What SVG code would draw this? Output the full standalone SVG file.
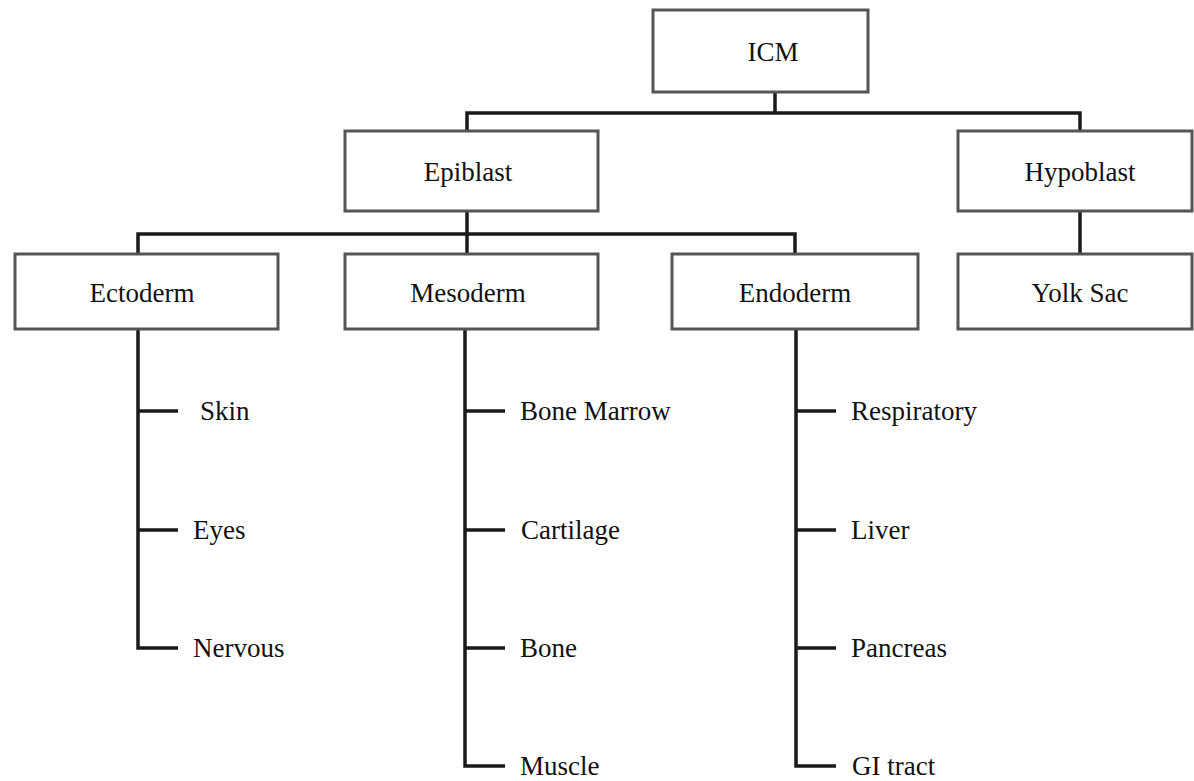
<svg xmlns="http://www.w3.org/2000/svg" width="1194" height="781" viewBox="0 0 1194 781">
<style>
.box{fill:#fff;stroke:#555;stroke-width:3}
.lbl{font-family:"Liberation Serif","Times New Roman",serif;font-size:27px;fill:#111;text-anchor:middle}
.leaf{font-family:"Liberation Serif","Times New Roman",serif;font-size:27px;fill:#111}
.ln{stroke:#1a1a1a;stroke-width:3.5;fill:none}
</style>
<rect width="1194" height="781" fill="#fff"/>
<g id="connectors">
<polyline class="ln" points="775,92 775,113"/>
<polyline class="ln" points="467,131 467,113 1080,113 1080,131"/>
<polyline class="ln" points="467,211 467,254"/>
<polyline class="ln" points="138,254 138,234 795,234 795,254"/>
<polyline class="ln" points="1080,211 1080,254"/>
<polyline class="ln" points="138,329 138,648 178,648"/>
<line class="ln" x1="138" y1="411" x2="178" y2="411"/>
<line class="ln" x1="138" y1="530" x2="178" y2="530"/>
<polyline class="ln" points="465,329 465,766 505,766"/>
<line class="ln" x1="465" y1="411" x2="505" y2="411"/>
<line class="ln" x1="465" y1="530" x2="505" y2="530"/>
<line class="ln" x1="465" y1="648" x2="505" y2="648"/>
<polyline class="ln" points="796,329 796,766 836,766"/>
<line class="ln" x1="796" y1="411" x2="836" y2="411"/>
<line class="ln" x1="796" y1="530" x2="836" y2="530"/>
<line class="ln" x1="796" y1="648" x2="836" y2="648"/>
</g>
<g id="icm"><rect class="box" x="653" y="10" width="215" height="82"/><text class="lbl" x="773" y="61">ICM</text></g>
<g id="epiblast"><rect class="box" x="345" y="131" width="253" height="80"/><text class="lbl" x="468" y="181">Epiblast</text></g>
<g id="hypoblast"><rect class="box" x="958" y="131" width="234" height="80"/><text class="lbl" x="1080" y="181">Hypoblast</text></g>
<g id="ectoderm"><rect class="box" x="15" y="254" width="263" height="75"/><text class="lbl" x="142" y="302">Ectoderm</text></g>
<g id="mesoderm"><rect class="box" x="345" y="254" width="253" height="75"/><text class="lbl" x="468" y="302">Mesoderm</text></g>
<g id="endoderm"><rect class="box" x="672" y="254" width="246" height="75"/><text class="lbl" x="795" y="302">Endoderm</text></g>
<g id="yolksac"><rect class="box" x="958" y="254" width="234" height="75"/><text class="lbl" x="1080" y="302">Yolk Sac</text></g>
<g id="skin"><text class="leaf" x="200" y="420">Skin</text></g>
<g id="eyes"><text class="leaf" x="193" y="539">Eyes</text></g>
<g id="nervous"><text class="leaf" x="193" y="657">Nervous</text></g>
<g id="bonemarrow"><text class="leaf" x="520" y="420">Bone Marrow</text></g>
<g id="cartilage"><text class="leaf" x="521" y="539">Cartilage</text></g>
<g id="bone"><text class="leaf" x="520" y="657">Bone</text></g>
<g id="muscle"><text class="leaf" x="520" y="775">Muscle</text></g>
<g id="respiratory"><text class="leaf" x="851" y="420">Respiratory</text></g>
<g id="liver"><text class="leaf" x="851" y="539">Liver</text></g>
<g id="pancreas"><text class="leaf" x="851" y="657">Pancreas</text></g>
<g id="gitract"><text class="leaf" x="852" y="775">GI tract</text></g>
</svg>
